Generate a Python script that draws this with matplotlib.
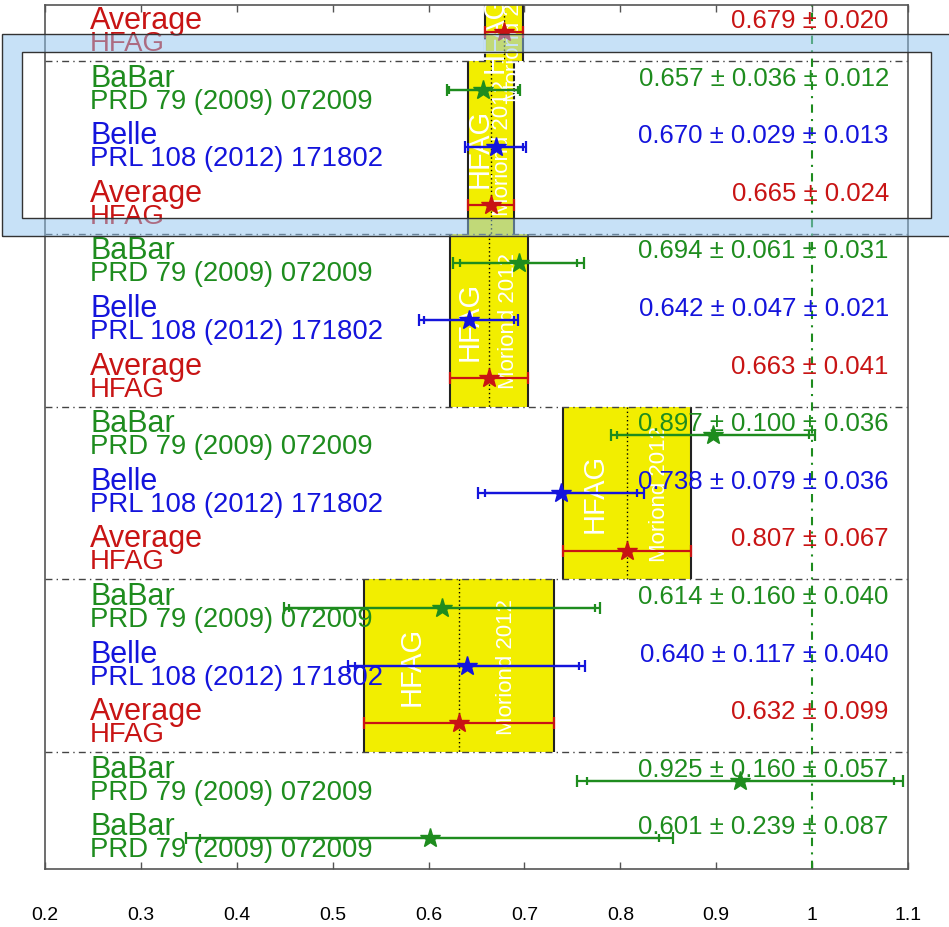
import numpy as np
import matplotlib
matplotlib.use("Agg")
import matplotlib.pyplot as plt
from matplotlib.patches import PathPatch, Rectangle
from matplotlib.path import Path

plt.rcParams['font.family'] = ['Liberation Sans', 'DejaVu Sans']

# one entry per row, top to bottom
experiments = ['Average', 'BaBar', 'Belle', 'Average', 'BaBar', 'Belle', 'Average',
               'BaBar', 'Belle', 'Average', 'BaBar', 'Belle', 'Average', 'BaBar', 'BaBar']
references = ['HFAG', 'PRD 79 (2009) 072009', 'PRL 108 (2012) 171802', 'HFAG',
              'PRD 79 (2009) 072009', 'PRL 108 (2012) 171802', 'HFAG',
              'PRD 79 (2009) 072009', 'PRL 108 (2012) 171802', 'HFAG',
              'PRD 79 (2009) 072009', 'PRL 108 (2012) 171802', 'HFAG',
              'PRD 79 (2009) 072009', 'PRD 79 (2009) 072009']
values = [0.679, 0.657, 0.670, 0.665, 0.694, 0.642, 0.663,
          0.897, 0.738, 0.807, 0.614, 0.640, 0.632, 0.925, 0.601]
stat_err = [0.020, 0.036, 0.029, 0.024, 0.061, 0.047, 0.041,
            0.100, 0.079, 0.067, 0.160, 0.117, 0.099, 0.160, 0.239]
syst_err = [None, 0.012, 0.013, None, 0.031, 0.021, None,
            0.036, 0.036, None, 0.040, 0.040, None, 0.057, 0.087]

xticks = [0.2, 0.3, 0.4, 0.5, 0.6, 0.7, 0.8, 0.9, 1.0, 1.1]
xticklabels = ['0.2', '0.3', '0.4', '0.5', '0.6', '0.7', '0.8', '0.9', '1', '1.1']

colors = {'BaBar': '#1e8c1e', 'Belle': '#1414dc', 'Average': '#c81414'}
band_color = '#f2ee00'

W, H = 949, 928
fig = plt.figure(figsize=(W / 100, H / 100), dpi=100)
ax = fig.add_axes([45 / W, 1 - 870 / H, 863 / W, 864.5 / H])
y_top, y_bottom = -0.48, 14.53
ax.set_xlim(0.2, 1.1)
ax.set_ylim(y_bottom, y_top)

rows = np.arange(len(values))

# averages: yellow band across their group, dotted centre line, labels
for r, name, v, s in zip(rows, experiments, values, stat_err):
    if name != 'Average':
        continue
    lo, hi = r - 2.5, r + 0.5
    ax.fill_between([v - s, v + s], lo, hi, color=band_color, lw=0, zorder=1)
    ax.vlines([v - s, v + s], lo, hi, color='#222222', lw=1.5, zorder=1.5)
    ax.vlines(v, lo, hi, color='black', lw=1, linestyles=(0, (1, 2)), zorder=1.5)
    ax.axhline(hi, color='#444444', lw=1, ls=(0, (5, 3, 1, 3)), zorder=2)
    mid = (max(lo, y_top) + hi) / 2
    ax.text(v - s / 2, mid, 'HFAG', rotation=90, color='white', fontsize=21,
            ha='center', va='center', clip_on=True, zorder=2)
    ax.text(v + s / 2, mid, 'Moriond 2012', rotation=90, color='white', fontsize=16,
            ha='center', va='center', clip_on=True, zorder=2)

ax.axvline(1.0, color=colors['BaBar'], lw=1.5, ls=(0, (4, 3, 1, 3)), zorder=2)

for r, name, ref, v, s, sy in zip(rows, experiments, references, values, stat_err, syst_err):
    c = colors[name]
    if sy is None:
        ax.errorbar(v, r, xerr=s, fmt='none', ecolor=c, elinewidth=1.6,
                    capsize=4, capthick=1.6, zorder=3)
        label = f'{v:.3f} ± {s:.3f}'
    else:
        total = np.hypot(s, sy)
        ax.errorbar(v, r, xerr=total, fmt='none', ecolor=c, elinewidth=1.6,
                    capsize=4, capthick=1.6, zorder=3)
        ax.errorbar(v, r, xerr=s, fmt='none', ecolor=c, elinewidth=1.6,
                    capsize=3, capthick=1.6, zorder=3)
        label = f'{v:.3f} ± {s:.3f} ± {sy:.3f}'
    ax.plot(v, r, marker='*', ms=15, color=c, mec=c, zorder=4)
    ax.text(0.247, r - 0.21, name, color=c, fontsize=22, ha='left', va='center', zorder=4)
    ax.text(0.247, r + 0.19, ref, color=c, fontsize=19.8, ha='left', va='center', zorder=4)
    ax.text(1.08, r - 0.21, label, color=c, fontsize=18.5, ha='right', va='center', zorder=4)

ax.set_xticks(xticks)
ax.set_xticklabels(xticklabels)
ax.set_yticks([])
ax.tick_params(axis='x', direction='in', length=5, width=1, color='#555555',
               top=True, labelsize=14, pad=27)
for sp in ax.spines.values():
    sp.set_color('#555555')
    sp.set_linewidth(1.2)

# highlight frame around the second group
def fpt(x, y):
    return (x / W, 1 - y / H)

outer = [fpt(2, 35), fpt(952, 35), fpt(952, 237), fpt(2, 237), fpt(2, 35)]
inner = [fpt(22, 53), fpt(22, 219), fpt(931, 219), fpt(931, 53), fpt(22, 53)]
codes = [Path.MOVETO] + [Path.LINETO] * 3 + [Path.CLOSEPOLY]
frame = Path(outer + inner, codes + codes)
fig.patches.append(PathPatch(frame, facecolor='#91c5f0', alpha=0.5, lw=0,
                             transform=fig.transFigure, figure=fig))
for (x0, y0, x1, y1) in [(2, 35, 952, 237), (22, 53, 931, 219)]:
    fig.patches.append(Rectangle(fpt(x0, y1), (x1 - x0) / W, (y1 - y0) / H,
                                 fill=False, edgecolor='#333333', lw=1,
                                 transform=fig.transFigure, figure=fig))

fig.savefig('out.png', dpi=100)
